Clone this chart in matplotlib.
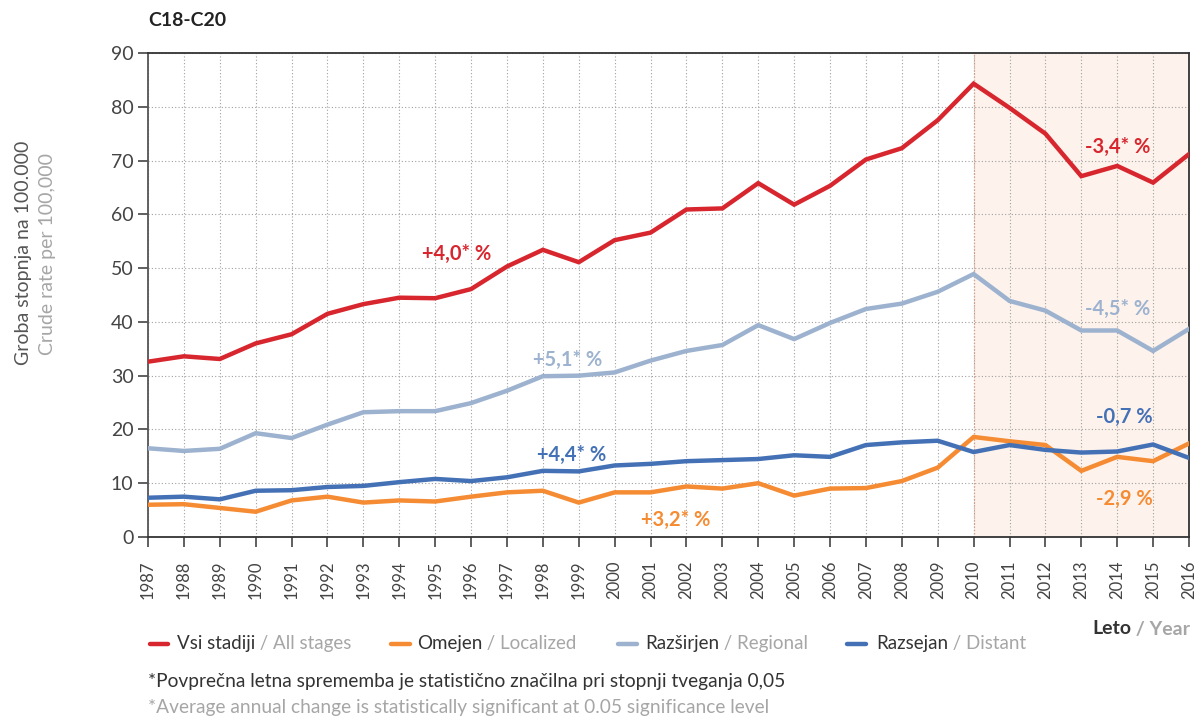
import matplotlib
matplotlib.use("Agg")
import matplotlib.pyplot as plt
from matplotlib.lines import Line2D

plt.rcParams["font.family"] = ["Lato", "DejaVu Sans"]

years = list(range(1987, 2017))

vsi_stadiji = [32.6, 33.6, 33.1, 36.0, 37.7, 41.5, 43.3, 44.5, 44.4, 46.1,
               50.3, 53.4, 51.1, 55.2, 56.6, 60.9, 61.1, 65.8, 61.8, 65.3,
               70.2, 72.3, 77.5, 84.3, 79.8, 75.0, 67.1, 69.0, 65.9, 71.2]
omejen = [6.0, 6.1, 5.4, 4.7, 6.8, 7.5, 6.4, 6.8, 6.6, 7.5,
          8.3, 8.6, 6.4, 8.3, 8.3, 9.4, 9.0, 10.0, 7.7, 9.0,
          9.1, 10.4, 12.9, 18.6, 17.8, 17.1, 12.3, 14.9, 14.1, 17.4]
razsirjen = [16.5, 16.0, 16.4, 19.3, 18.4, 20.9, 23.2, 23.4, 23.4, 24.9,
             27.2, 29.9, 30.0, 30.6, 32.8, 34.6, 35.7, 39.4, 36.8, 39.8,
             42.4, 43.4, 45.6, 48.9, 43.9, 42.1, 38.4, 38.4, 34.6, 38.7]
razsejan = [7.3, 7.5, 7.0, 8.6, 8.7, 9.3, 9.5, 10.2, 10.8, 10.4,
            11.1, 12.3, 12.2, 13.3, 13.6, 14.1, 14.3, 14.5, 15.2, 14.9,
            17.1, 17.6, 17.9, 15.8, 17.1, 16.2, 15.7, 15.9, 17.2, 14.7]

series_names = [("Vsi stadiji", "All stages"), ("Omejen", "Localized"),
                ("Razširjen", "Regional"), ("Razsejan", "Distant")]
colors = ["#d7262e", "#f58b32", "#9cb2cf", "#4471b6"]

# trend labels: (text, x, y, colour index)
trend_labels = [
    ("+4,0* %", 1995.6, 52.6, 0), ("-3,4* %", 2014.0, 72.5, 0),
    ("+5,1* %", 1998.7, 32.9, 2), ("-4,5* %", 2014.0, 42.4, 2),
    ("+4,4* %", 1998.8, 15.2, 3), ("-0,7 %", 2014.2, 22.3, 3),
    ("+3,2* %", 2001.7, 3.2, 1), ("-2,9 %", 2014.2, 7.1, 1),
]

DARK = "#333333"
GREY = "#a6a6a6"
W, H = 1200, 717

fig = plt.figure(figsize=(12, 7.17), dpi=100)
ax = fig.add_axes([148 / W, 1 - 537 / H, (1189 - 148) / W, (537 - 53) / H])

ax.axvspan(2010, 2016, color="#fdf2ec", zorder=0, lw=0)
ax.axvline(2010, color="#d9a58a", lw=0.9, ls=(0, (1, 1.5)), zorder=1)

for vals, c in zip([vsi_stadiji, omejen, razsirjen, razsejan], colors):
    ax.plot(years, vals, color=c, lw=3.2, zorder=3, solid_joinstyle="miter")

for txt, x, y, ci in trend_labels:
    ax.text(x, y, txt, color=colors[ci], fontsize=14.5, fontweight="bold",
            ha="center", va="center", zorder=4)

ax.set_xlim(1987, 2016)
ax.set_ylim(0, 90)
ax.set_xticks(years)
ax.set_xticklabels([str(y) for y in years], rotation=90, fontsize=12, color="#444444")
ax.set_yticks(range(0, 91, 10))
ax.tick_params(axis="y", labelsize=14, colors="#444444", length=7, width=1.2, direction="out")
ax.tick_params(axis="x", length=7, width=1.2, direction="out", color="#444444", pad=10)
ax.grid(True, color="#a0a0a0", lw=0.8, ls=(0, (1, 2)), zorder=1)
ax.set_axisbelow(True)
for s in ax.spines.values():
    s.set_color("#333333")
    s.set_linewidth(1.3)
ax.spines["left"].set_color("#555555")

fig.text(148 / W, 1 - 20 / H, "C18-C20", fontsize=14, fontweight="bold",
         color="#222222", ha="left", va="center")

fig.text(24 / W, 1 - 141 / H, "Groba stopnja na 100.000", rotation=90,
         fontsize=14, color="#555555", ha="center", va="top")
fig.text(48 / W, 1 - 153 / H, "Crude rate per 100,000", rotation=90,
         fontsize=14, color=GREY, ha="center", va="top")

fig.canvas.draw()
renderer = fig.canvas.get_renderer()


def two_tone(x, y, first, second, size, weight="normal", c1=DARK, c2=GREY, ha="left"):
    t1 = fig.text(x, y, first, fontsize=size, fontweight=weight, color=c1, va="center")
    w1 = t1.get_window_extent(renderer).width / fig.bbox.width
    t2 = fig.text(x + w1, y, second, fontsize=size, fontweight=weight, color=c2, va="center")
    if ha == "right":
        w2 = t2.get_window_extent(renderer).width / fig.bbox.width
        t1.set_x(x - w1 - w2)
        t2.set_x(x - w2)


two_tone(1190 / W, 1 - 629 / H, "Leto", " / Year", 14, weight="bold", ha="right")

leg_handles = [(148, 170), (389, 412), (616, 639), (845, 868)]
leg_text_x = [177, 417, 645, 876]
leg_y = 1 - 644 / H
for (sl, en), c, (h0, h1), tx in zip(series_names, colors, leg_handles, leg_text_x):
    fig.add_artist(Line2D([(h0 + 2) / W, (h1 - 2) / W], [leg_y, leg_y], color=c, lw=3.2,
                          solid_capstyle="round", transform=fig.transFigure))
    two_tone(tx / W, leg_y, sl, " / " + en, 13.5)

fig.text(148 / W, 1 - 682 / H,
         "*Povprečna letna sprememba je statistično značilna pri stopnji tveganja 0,05",
         fontsize=13.8, color="#333333", va="center")
fig.text(148 / W, 1 - 707 / H,
         "*Average annual change is statistically significant at 0.05 significance level",
         fontsize=13.8, color=GREY, va="center")

fig.savefig("out.png", dpi=100)
